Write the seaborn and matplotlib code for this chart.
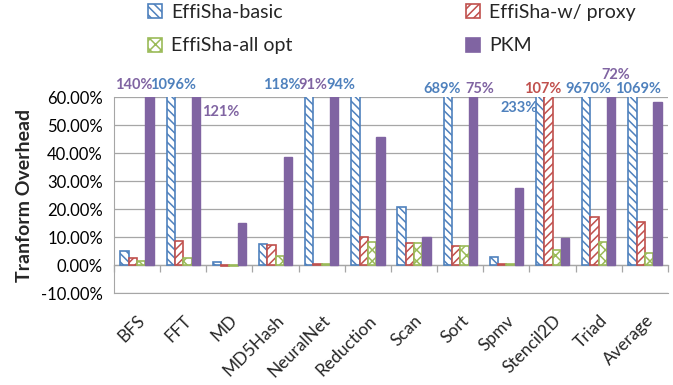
import numpy as np
import pandas as pd
import matplotlib
matplotlib.use("Agg")
import matplotlib.pyplot as plt
import seaborn as sns
from matplotlib.patches import Patch
from matplotlib.ticker import FuncFormatter

# Benchmarks and transform overhead (%) per scheme
benchmarks = ["BFS", "FFT", "MD", "MD5Hash", "NeuralNet", "Reduction",
              "Scan", "Sort", "Spmv", "Stencil2D", "Triad", "Average"]
series = ["EffiSha-basic", "EffiSha-w/ proxy", "EffiSha-all opt", "PKM"]
basic = [5.1, 1096, 1.2, 7.4, 118, 94, 20.7, 689, 3.0, 233, 9670, 1069]
proxy = [2.6, 8.7, -0.5, 7.0, 0.4, 10.1, 7.9, 6.8, 0.5, 107, 17.0, 15.2]
allopt = [1.5, 2.5, -0.5, 3.3, 0.4, 8.1, 7.9, 6.8, 0.5, 5.4, 8.1, 4.2]
pkm = [140, 121, 15.1, 38.4, 91, 45.8, 9.9, 75, 27.4, 9.5, 72, 58.3]

colors = ["#4F81BD", "#C0504D", "#9BBB59", "#8064A2"]
hatches = ["\\\\\\\\", "////", "xxx", None]

# (benchmark index, series index, x position, y position) for off-scale values
overflow_labels = [
    (0, 3, -0.07, 64.3), (1, 0, 0.77, 64.3), (1, 3, 1.82, 54.6),
    (4, 0, 3.14, 64.3), (4, 3, 3.80, 64.3), (5, 0, 4.42, 64.3),
    (7, 0, 6.61, 62.9), (7, 3, 7.43, 62.9), (9, 0, 8.28, 56.1),
    (9, 1, 8.78, 62.9), (10, 0, 9.78, 62.9), (10, 3, 10.37, 67.9),
    (11, 0, 10.85, 62.9),
]

values = [basic, proxy, allopt, pkm]
df = pd.DataFrame({
    "bench": np.tile(benchmarks, len(series)),
    "scheme": np.repeat(series, len(benchmarks)),
    "value": np.concatenate(values),
})

sns.set_style("white")
plt.rcParams["font.family"] = ["Lato", "DejaVu Sans"]
plt.rcParams["hatch.linewidth"] = 1.1

fig = plt.figure(figsize=(6.73, 3.85), dpi=100)
ax = fig.add_axes([114 / 673, 1 - 293 / 385, 554 / 673, 196 / 385])

sns.barplot(data=df, x="bench", y="value", hue="scheme", order=benchmarks,
            hue_order=series, palette=colors, width=0.72, gap=0,
            errorbar=None, legend=False, ax=ax, zorder=3)

for j, cont in enumerate(ax.containers):
    for bar in cont:
        if hatches[j] is None:
            bar.set_facecolor(colors[j])
            bar.set_edgecolor(colors[j])
        else:
            bar.set_facecolor("white")
            bar.set_edgecolor(colors[j])
            bar.set_hatch(hatches[j])
            bar.set_linewidth(1.2)

ax.set_ylim(-10, 60)
ax.set_xlim(-0.5, len(benchmarks) - 0.5)
ax.set_yticks(np.arange(-10, 61, 10))
ax.yaxis.set_major_formatter(FuncFormatter(lambda v, p: f"{v:.2f}%"))
ax.grid(axis="y", color="#A6A6A6", lw=0.9, zorder=0)
ax.set_axisbelow(True)
for s in ["top", "right"]:
    ax.spines[s].set_visible(False)
for s in ["left", "bottom"]:
    ax.spines[s].set_color("#A6A6A6")
ax.tick_params(axis="y", length=0, labelsize=12, pad=8, labelcolor="black")
ax.tick_params(axis="x", length=0, labelsize=12.5, pad=14)
for lbl in ax.get_xticklabels():
    lbl.set_rotation(45)
    lbl.set_ha("right")
    lbl.set_rotation_mode("anchor")
ax.set_xlabel("")
ax.set_ylabel("Tranform Overhead", fontsize=14, fontweight="bold", labelpad=6)

# category separators hanging below the zero line
sec = ax.secondary_xaxis(10 / 70)
sec.set_xticks(np.arange(-0.5, len(benchmarks), 1))
sec.set_xticklabels([])
sec.tick_params(axis="x", length=5, color="#A6A6A6", width=0.9)
sec.spines["bottom"].set_color("#A6A6A6")
sec.spines["bottom"].set_linewidth(0.9)

for bi, si, x, y in overflow_labels:
    ax.text(x, y, f"{values[si][bi]:.0f}%", color=colors[si], fontsize=10.5,
            fontweight="bold", ha="center", va="center", clip_on=False, zorder=5)

handles = [Patch(facecolor="white" if h else c, edgecolor=c, hatch=h, lw=1.2)
           for c, h in zip(colors, hatches)]
order = [0, 2, 1, 3]
fig.legend([handles[i] for i in order], [series[i] for i in order],
           ncol=2, loc="upper left", bbox_to_anchor=(140 / 673, 1.01),
           frameon=False, fontsize=14, handlelength=0.75, handleheight=0.75,
           handletextpad=0.45, columnspacing=8.9, labelspacing=0.85,
           borderaxespad=0.0)

fig.savefig("out.png", dpi=100)
